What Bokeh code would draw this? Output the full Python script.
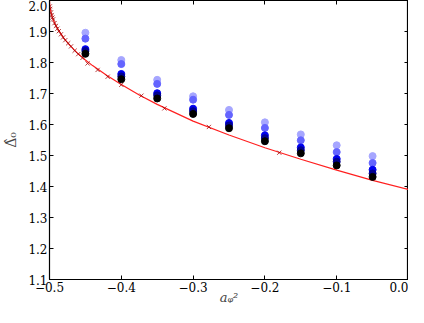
from bokeh.plotting import figure
from bokeh.models import LinearAxis, FixedTicker, CustomJSTickFormatter, Range1d
from bokeh.embed import file_html
from bokeh.resources import INLINE

# ---- data ----
x_points = [-0.45, -0.4, -0.35, -0.3, -0.25, -0.2, -0.15, -0.1, -0.05]
series_1 = [1.896, 1.808, 1.744, 1.691, 1.647, 1.607, 1.568, 1.533, 1.498]
series_2 = [1.877, 1.795, 1.731, 1.680, 1.631, 1.589, 1.549, 1.511, 1.476]
series_3 = [1.843, 1.763, 1.701, 1.651, 1.605, 1.565, 1.526, 1.489, 1.454]
series_4 = [1.837, 1.755, 1.694, 1.643, 1.597, 1.556, 1.517, 1.480, 1.442]
series_5 = [1.828, 1.746, 1.684, 1.634, 1.588, 1.546, 1.507, 1.468, 1.431]
series_colors = ["#a6a6ff", "#6464ff", "#0000ee", "#000090", "#000000"]

curve_x = [-0.5, -0.4995, -0.499, -0.497, -0.495, -0.49, -0.48, -0.47, -0.46, -0.45,
           -0.44, -0.42, -0.40, -0.375, -0.35, -0.30, -0.25, -0.20, -0.15, -0.10,
           -0.05, 0.0]
curve_y = [2.0, 1.981, 1.973, 1.953, 1.939, 1.914, 1.878, 1.851, 1.828, 1.808,
           1.790, 1.758, 1.729, 1.695, 1.665, 1.611, 1.566, 1.525, 1.488, 1.453,
           1.420, 1.390]

cross_x = [-0.4995, -0.499, -0.498, -0.497, -0.496, -0.495, -0.493, -0.491, -0.489,
           -0.487, -0.484, -0.481, -0.478, -0.474, -0.470, -0.465, -0.460, -0.454,
           -0.447, -0.433, -0.419, -0.400, -0.372, -0.340, -0.278, -0.180]
cross_y = [1.981, 1.973, 1.961, 1.953, 1.945, 1.939, 1.927, 1.918, 1.909,
           1.901, 1.891, 1.881, 1.872, 1.862, 1.852, 1.838, 1.827, 1.815,
           1.797, 1.776, 1.754, 1.728, 1.693, 1.652, 1.592, 1.509]

x_ticks = [-0.5, -0.4, -0.3, -0.2, -0.1, 0.0]
y_ticks = [1.1, 1.2, 1.3, 1.4, 1.5, 1.6, 1.7, 1.8, 1.9, 2.0]

FONT = "DejaVu Serif"

p = figure(width=408, height=307, output_backend="svg", toolbar_location=None,
           x_range=Range1d(-0.5, 0.0), y_range=Range1d(1.1, 2.0),
           min_border_left=42, min_border_right=0, min_border_top=0,
           min_border_bottom=0)
p.grid.visible = False
p.outline_line_color = "black"
p.outline_line_width = 1.2
p.background_fill_color = "white"

fmt = CustomJSTickFormatter(code="return tick.toFixed(1).replace('-', '\\u2212');")
blank = CustomJSTickFormatter(code="return '';")


def style(ax, ticks, show_labels):
    ax.ticker = FixedTicker(ticks=ticks)
    ax.major_tick_in = 4
    ax.major_tick_out = 0
    ax.minor_tick_in = 0
    ax.minor_tick_out = 0
    ax.axis_line_color = "black"
    ax.major_tick_line_color = "black"
    ax.major_label_text_font = FONT
    ax.major_label_text_color = "black"
    ax.major_label_text_font_size = "12px"
    if show_labels:
        ax.formatter = fmt
        ax.major_label_standoff = 2
    else:
        ax.formatter = blank
        ax.major_label_standoff = 0


style(p.xaxis[0], x_ticks, True)
style(p.yaxis[0], y_ticks, True)
p.xaxis[0].axis_label = "aᵩ²"
p.xaxis[0].axis_label_text_font = FONT
p.xaxis[0].axis_label_text_font_style = "italic"
p.xaxis[0].axis_label_text_font_size = "13px"
p.xaxis[0].axis_label_standoff = -5
p.yaxis[0].axis_label = "Δ̂₀"
p.yaxis[0].axis_label_text_font = FONT
p.yaxis[0].axis_label_text_font_style = "normal"
p.yaxis[0].axis_label_text_font_size = "14px"
p.yaxis[0].axis_label_standoff = 6

top_ax = LinearAxis()
style(top_ax, x_ticks, False)
p.add_layout(top_ax, "above")
right_ax = LinearAxis()
style(right_ax, y_ticks, False)
p.add_layout(right_ax, "right")

# red curve
p.line(curve_x, curve_y, line_color="#ff2020", line_width=1.2)
# crosses
p.scatter(cross_x, cross_y, marker="x", size=6, line_color="#a00000",
          line_alpha=0.75, line_width=1)

# dot series
for ys, c in zip([series_1, series_2, series_3, series_4, series_5], series_colors):
    p.scatter(x_points, ys, marker="circle", size=7, fill_color=c, line_color=c)

open("out.html", "w").write(file_html(p, INLINE))
